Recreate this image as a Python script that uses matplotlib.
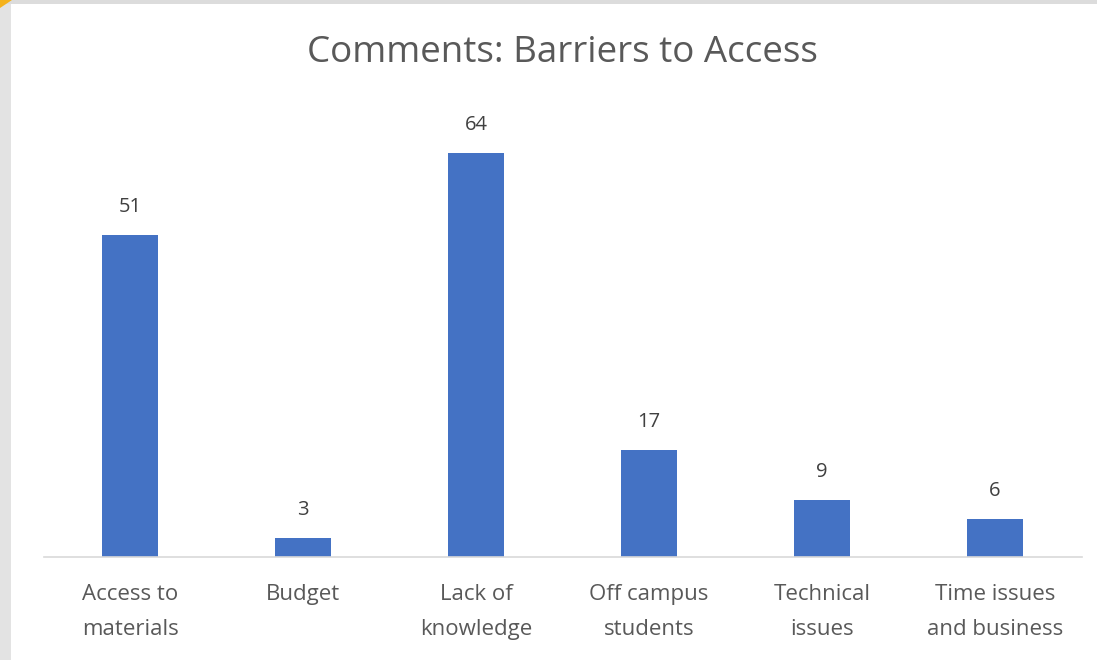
import matplotlib.pyplot as plt
from matplotlib.patches import Polygon, Rectangle

categories = ["Access to\nmaterials", "Budget", "Lack of\nknowledge",
              "Off campus\nstudents", "Technical\nissues", "Time issues\nand business"]
counts = [51, 3, 64, 17, 9, 6]

plt.rcParams["font.family"] = ["Open Sans", "DejaVu Sans"]
TXT = "#595959"
BAR = "#4472C4"

fig = plt.figure(figsize=(10.97, 6.60), dpi=100)
fig.patch.set_facecolor("white")

# slide frame: grey strip on the left and top, orange corner
fig.add_artist(Rectangle((0, 0), 11 / 1097, 1, transform=fig.transFigure,
                         facecolor="#e3e3e3", edgecolor="none"))
fig.add_artist(Rectangle((0, 1 - 4 / 660), 1, 4 / 660, transform=fig.transFigure,
                         facecolor="#dcdcdc", edgecolor="none"))
fig.add_artist(Polygon([(0, 1), (12 / 1097, 1), (0, 1 - 8 / 660)], closed=True,
                       transform=fig.transFigure, facecolor="#f5b21b", edgecolor="none"))

ax = fig.add_axes([43.5 / 1097, 103 / 660, 1038 / 1097, 457 / 660])
x = range(len(categories))
bars = ax.bar(x, counts, width=0.32, color=BAR)
ax.set_xlim(-0.5, len(categories) - 0.5)
ax.set_ylim(0, 72.4)

for b, v in zip(bars, counts):
    ax.annotate(str(v), (b.get_x() + b.get_width() / 2, v), xytext=(0, 13),
                textcoords="offset points", ha="center", va="bottom",
                fontsize=14.5, color="#404040")

ax.set_xticks(list(x))
ax.set_xticklabels(categories, fontsize=16, color=TXT, linespacing=1.9)
ax.tick_params(axis="x", length=0, pad=19.5)
ax.set_yticks([])
for s in ["top", "right", "left"]:
    ax.spines[s].set_visible(False)
ax.spines["bottom"].set_color("#d9d9d9")
ax.spines["bottom"].set_linewidth(1.2)

fig.text(562 / 1097, 1 - 53 / 660, "Comments: Barriers to Access", ha="center",
         va="center", fontsize=26.5, color=TXT)

fig.savefig("out.png", dpi=100)
